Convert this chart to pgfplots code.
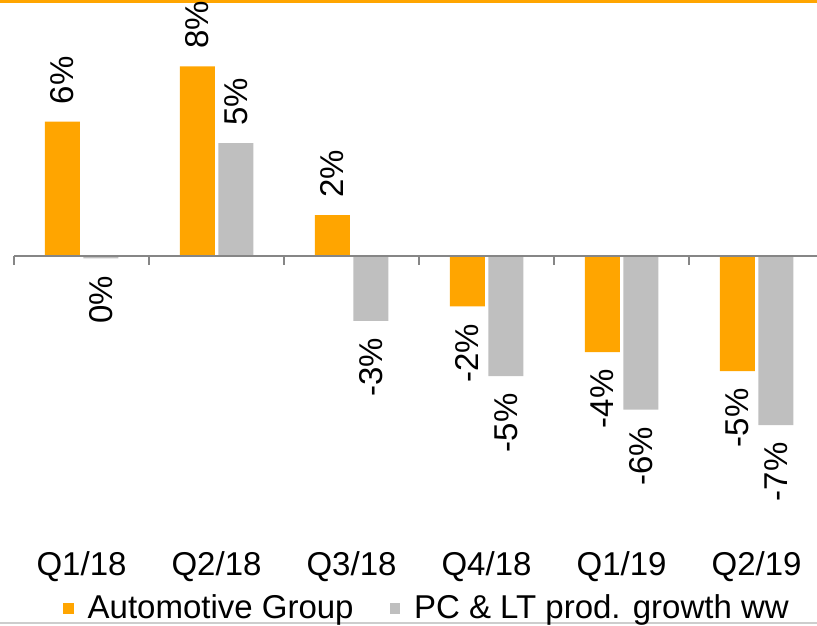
\documentclass[border=0pt]{standalone}
\usepackage{pgfplots}
\usepackage{pgfplotstable}
\pgfplotsset{compat=1.18}
\usepackage{fontspec}
\setmainfont{Liberation Sans}
\definecolor{autoorange}{RGB}{255,165,0}
\definecolor{pcgray}{RGB}{191,191,191}
\definecolor{axgray}{RGB}{134,134,134}
\definecolor{framegray}{RGB}{205,205,205}

\pgfplotstableread{
x y lab
0 5.6 6
1 7.9 8
2 1.7 2
3 -2.1 -2
4 -4.0 -4
5 -4.8 -5
}\autotab

\pgfplotstableread{
x y lab
0 -0.1 0
1 4.7 5
2 -2.7 -3
3 -5.0 -5
4 -6.4 -6
5 -7.05 -7
}\pctab

\begin{document}
\fontsize{16.5}{19.8}\selectfont
\begin{tikzpicture}
\useasboundingbox (0pt,0pt) rectangle (408.5pt,312.5pt);
\fill[autoorange] (0pt,311pt) rectangle (408.5pt,312.5pt);
\draw[framegray, line width=0.6pt] (0pt,1pt) -- (408.5pt,1pt);
\begin{axis}[
  at={(7pt,42.5pt)}, anchor=south west,
  scale only axis, width=401.5pt, height=270pt,
  xmin=-0.5, xmax=5.448, ymin=-11.833, ymax=10.667,
  clip=false,
  hide y axis,
  axis x line*=bottom,
  x axis line style={draw=none},
  xtick={0,1,2,3,4,5},
  xticklabels={Q1/18,Q2/18,Q3/18,Q4/18,Q1/19,Q2/19},
  major tick length=0pt,
  xtick style={draw=none},
  ybar,
  bar width=17.5pt,
  nodes near coords={\pgfplotspointmeta\%},
  point meta=explicit symbolic,
  visualization depends on={rawy \as \myy},
  every node near coord/.append style={rotate=90, inner xsep=8.5pt, inner ysep=1pt, text=black},
  every node near coord/.append code={\ifdim\myy pt<0pt\relax\tikzset{anchor=east}\else\tikzset{anchor=west}\fi},
  legend image code/.code={\fill[#1] (0pt,-2.6pt) rectangle (5.2pt,2.6pt);},
  legend columns=2,
  legend style={draw=none, fill=none, at={(0.5156,-0.127)}, anchor=center,
    /tikz/every even column/.append style={column sep=16pt},
    inner sep=0pt},
]
\addplot[fill=autoorange, draw=none, bar shift=-9.625pt] table[x=x, y=y, meta=lab] {\autotab};
\addlegendentry{\hspace*{5pt}Automotive Group}
\addplot[fill=pcgray, draw=none, bar shift=9.625pt] table[x=x, y=y, meta=lab] {\pctab};
\addlegendentry{\hspace*{5pt}PC \& LT prod. growth ww}
\draw[axgray, line width=1pt] (axis cs:-0.5,0) -- (axis cs:5.448,0);
\pgfplotsinvokeforeach{-0.5,0.5,1.5,2.5,3.5,4.5}{
  \draw[axgray, line width=1pt] (axis cs:#1,0) -- ++(0pt,-4.5pt);
}
\end{axis}
\end{tikzpicture}
\end{document}
